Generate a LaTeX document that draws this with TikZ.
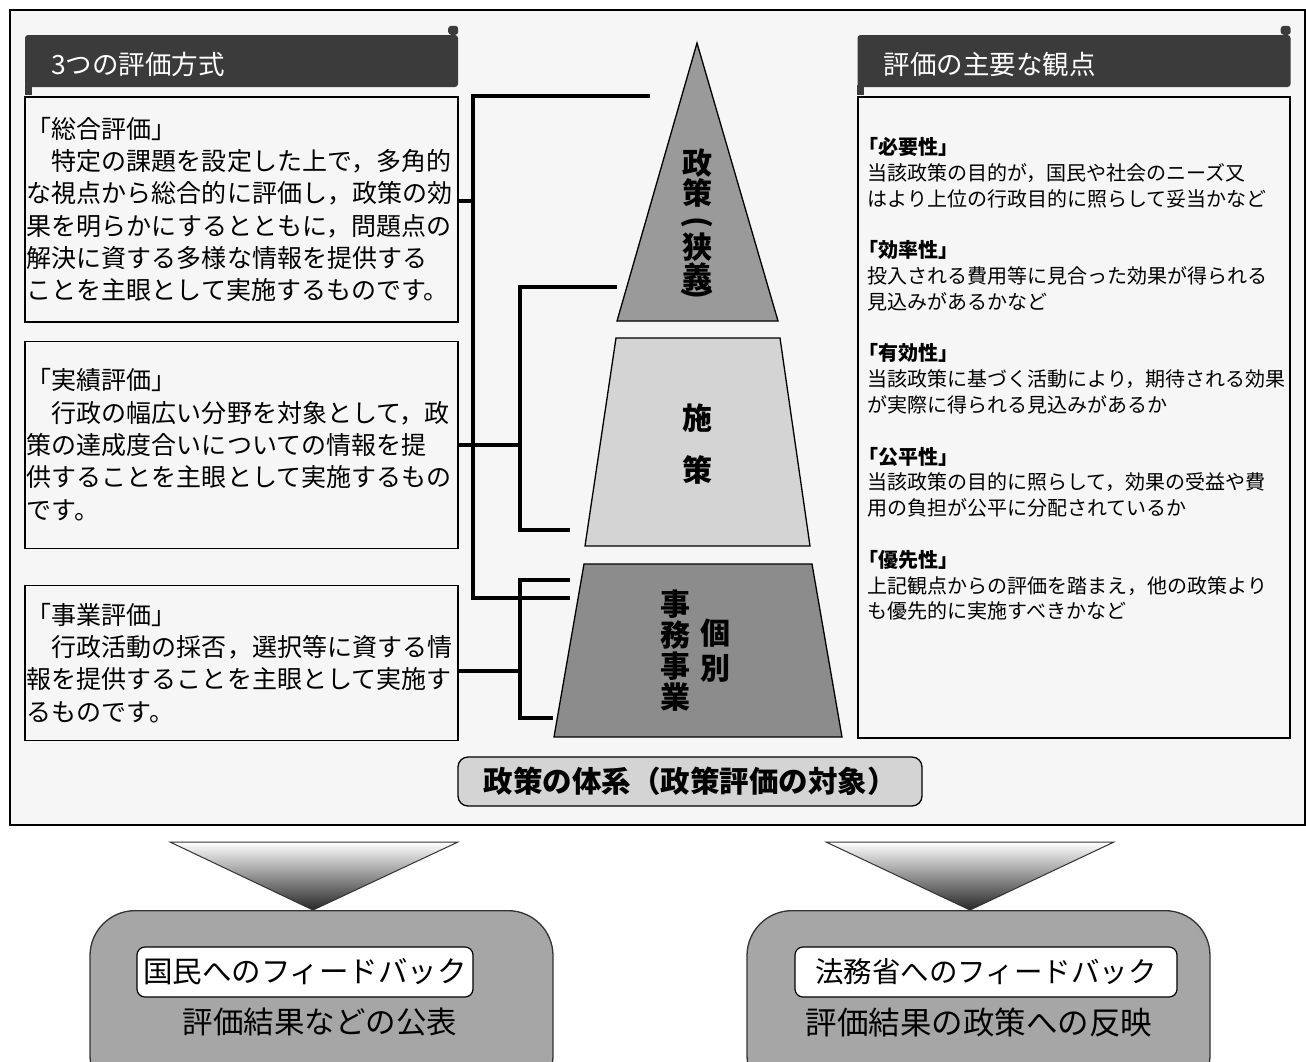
\documentclass[tikz,border=0pt]{standalone}
\usepackage{fontspec}
\setmainfont{Noto Sans CJK JP}
\usetikzlibrary{positioning}
\definecolor{bg}{HTML}{F6F6F6}
\definecolor{hdr}{HTML}{3B3B3B}
\definecolor{lvA}{HTML}{9A9A9A}
\definecolor{lvB}{HTML}{D4D4D4}
\definecolor{lvC}{HTML}{8C8C8C}
\definecolor{fbk}{HTML}{A6A6A6}
\tikzset{
  hdrbar/.style={fill=hdr, text=white, rounded corners=3pt, minimum width=433pt, minimum height=52pt,
    text width=381pt, inner xsep=26pt, align=left, text height=29.5pt, text depth=3pt,
    font=\fontsize{26.5}{30}\selectfont},
  evbox/.style={draw, line width=1.3pt, fill=bg, minimum width=433pt, text width=429pt, inner xsep=2pt,
    align=left, font=\fontsize{25}{32.3}\selectfont},
  brk/.style={line width=4pt},
  lvl/.style={draw, line width=1.3pt},
  lvtxt/.style={align=center, inner sep=0pt, font=\bfseries\fontsize{30}{30}\selectfont},
  fbbox/.style={draw=black!80, line width=1.3pt, fill=fbk, rounded corners=45pt, minimum width=463pt, minimum height=190pt, anchor=north},
  fbtag/.style={draw, line width=1.2pt, fill=white, rounded corners=8pt, minimum height=50pt, inner sep=0pt},
  fbtxt/.style={node distance=50pt},
  funnel/.style={draw=black!80, line width=1pt, top color=white, bottom color=black!85}
}
\begin{document}
\begin{tikzpicture}[x=1pt,y=-1pt]
\useasboundingbox (0,0) rectangle (1306,1061);
\draw[line width=2pt, fill=bg] (10,10) rectangle (1305,825);

\node[hdrbar] (h1) at (241.5,61) {3つの評価方式};
\fill[hdr, rounded corners=3pt] ([xshift=-10pt]h1.north east) rectangle ++(10,-9);
\fill[hdr] ([yshift=2pt]h1.south west) rectangle ++(7,10);
\node[hdrbar] (h2) at (1074,61) {評価の主要な観点};
\fill[hdr, rounded corners=3pt] ([xshift=-10pt]h2.north east) rectangle ++(10,-9);
\fill[hdr] ([yshift=2pt]h2.south west) rectangle ++(7,10);

\node[evbox, minimum height=225pt, below=9pt of h1] (b1) {「総合評価」\\
　特定の課題を設定した上で，多角的\\
な視点から総合的に評価し，政策の効\\
果を明らかにするとともに，問題点の\\
解決に資する多様な情報を提供する\\
ことを主眼として実施するものです。};
\node[evbox, minimum height=207pt, below=18pt of b1] (b2) {「実績評価」\\
　行政の幅広い分野を対象として，政\\
策の達成度合いについての情報を提\\
供することを主眼として実施するもの\\
です。};
\node[evbox, minimum height=155pt, below=36pt of b2] (b3) {「事業評価」\\
　行政活動の採否，選択等に資する情\\
報を提供することを主眼として実施す\\
るものです。};

\node[draw, line width=1.3pt, fill=bg, minimum width=432pt, minimum height=641pt, below=9pt of h2] (b4) {};
\node[anchor=north west, align=left, inner sep=0pt, font=\fontsize{20}{25.8}\selectfont]
  (pts) at ([xshift=10pt,yshift=-41pt]b4.north west) {%
{\bfseries\hspace*{-.45em}「必要性」}\\
当該政策の目的が，国民や社会のニーズ又\\
はより上位の行政目的に照らして妥当かなど\\[25.8pt]
{\bfseries\hspace*{-.45em}「効率性」}\\
投入される費用等に見合った効果が得られる\\
見込みがあるかなど\\[25.8pt]
{\bfseries\hspace*{-.45em}「有効性」}\\
当該政策に基づく活動により，期待される効果\\
が実際に得られる見込みがあるか\\[25.8pt]
{\bfseries\hspace*{-.45em}「公平性」}\\
当該政策の目的に照らして，効果の受益や費\\
用の負担が公平に分配されているか\\[25.8pt]
{\bfseries\hspace*{-.45em}「優先性」}\\
上記観点からの評価を踏まえ，他の政策より\\
も優先的に実施すべきかなど};

\draw[lvl, fill=lvA] (697,43) -- (778,321) -- (617,321) -- cycle;
\draw[lvl, fill=lvB] (616,338) -- (780,338) -- (810,546) -- (585,546) -- cycle;
\draw[lvl, fill=lvC] (584,564) -- (812,564) -- (842,737) -- (554,737) -- cycle;
\node[lvtxt] (p1) at (697,178) {政\\策};
\node[lvtxt] (q1) at (697,224) {\rotatebox[origin=c]{-90}{(}};
\node[lvtxt, font=\bfseries\fontsize{30}{28}\selectfont] (p1b) at (697,262) {狭\\義};
\node[lvtxt] (q2) at (697,295) {\rotatebox[origin=c]{-90}{)}};
\node[lvtxt] (p2) at (697,444) {施\\[22pt]策};
\node[lvtxt, font=\bfseries\fontsize{30}{31}\selectfont] (p3) at (675,651) {事\\務\\事\\業};
\node[lvtxt, font=\bfseries\fontsize{30}{31}\selectfont] (p4) at (715,651) {個\\[4pt]別};

\coordinate (a1) at (650,96);
\coordinate (a2) at (570,598);
\coordinate (c1) at (617,287);
\coordinate (c2) at (570,530);
\coordinate (d1) at (570,580);
\coordinate (d2) at (553,718);
\draw[brk] (a1) -- ++(-177,0) |- (a2);
\draw[brk] ([yshift=8pt]b1.east) -- ++(15,0);
\draw[brk] (c1) -- ++(-97,0) |- (c2);
\draw[brk] (b2.east) -- ++(62,0);
\draw[brk] (d1) -- ++(-50,0) |- (d2);
\draw[brk] ([yshift=-8.5pt]b3.east) -- ++(62,0);

\node[draw, line width=1.3pt, fill=lvB, rounded corners=10pt, minimum width=464pt, minimum height=49pt,
  font=\bfseries\fontsize{29.5}{30}\selectfont] (sys) at (690,781.5) {政策の体系（政策評価の対象）};

\node[fbbox] (f1) at (321.5,910) {};
\node[fbbox] (f2) at (978.5,910) {};
\shade[funnel] (170,842) -- (458,842) -- (313,910) -- cycle;
\shade[funnel] (826,842) -- (1114,842) -- (970,910) -- cycle;
\node[fbtag, minimum width=336pt, font=\fontsize{29.5}{30}\selectfont] (t1) at (305,972) {国民へのフィードバック};
\node[fbtxt, below of=t1, xshift=15pt, font=\fontsize{30.5}{30}\selectfont] (r1) {評価結果などの公表};
\node[fbtag, minimum width=382pt, font=\fontsize{28.5}{30}\selectfont] (t2) at (986,972) {法務省へのフィードバック};
\node[fbtxt, below of=t2, xshift=-7pt, font=\fontsize{31.5}{30}\selectfont] (r2) {評価結果の政策への反映};
\end{tikzpicture}
\end{document}
